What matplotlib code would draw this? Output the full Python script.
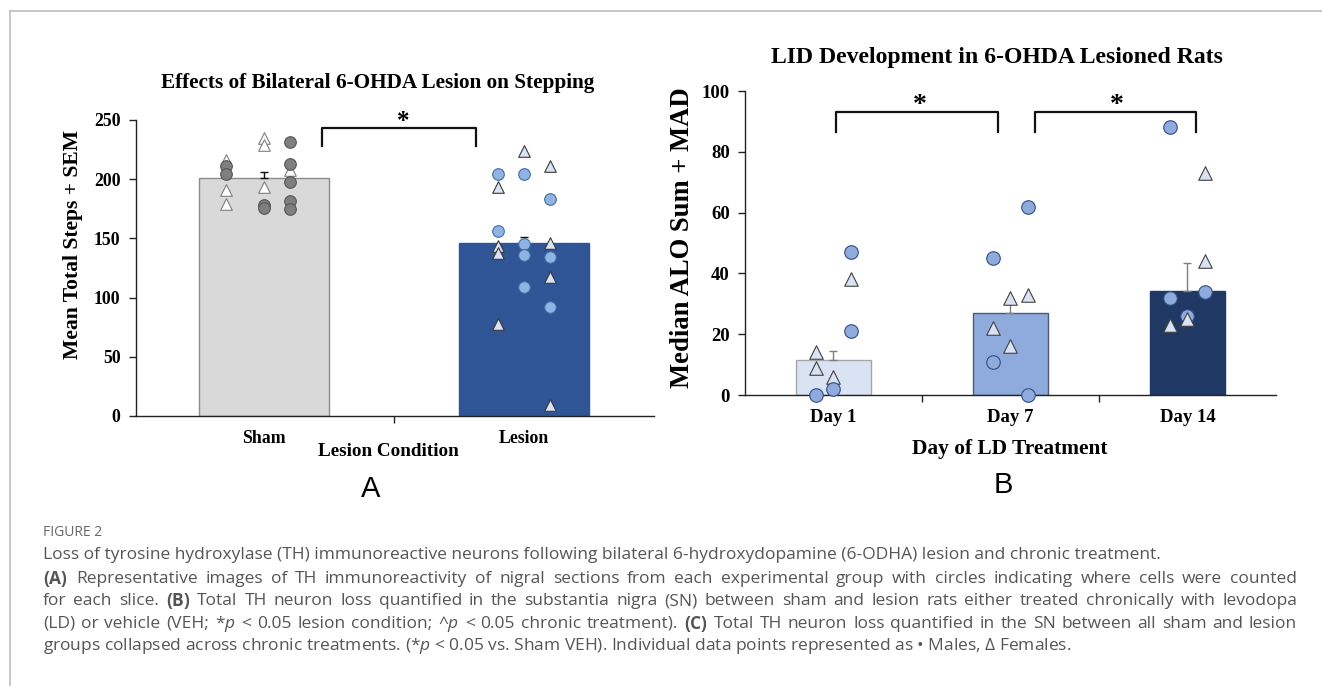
import numpy as np
import matplotlib
matplotlib.use("Agg")
import matplotlib.pyplot as plt
from matplotlib.lines import Line2D

# Panel A - stepping
a_groups = ["Sham", "Lesion"]
a_means = [201, 146]
a_sem = [5, 5]
# individual animals, one list per jitter column: (value, is_male)
sham_cols = [
    [(216, False), (211, True), (204, True), (191, False), (179, False)],
    [(235, False), (229, False), (193, False), (178, True), (176, True)],
    [(208, False), (231, True), (213, True), (198, True), (182, True), (175, True)],
]
lesion_cols = [
    [(204, True), (193, False), (156, True), (144, False), (138, False), (78, False)],
    [(224, False), (204, True), (145, True), (136, True), (109, True)],
    [(211, False), (183, True), (146, False), (134, True), (117, False), (92, True), (9, False)],
]

# Panel B - LID development
b_days = ["Day 1", "Day 7", "Day 14"]
b_medians = [11.5, 27, 34.3]
b_mad = [3, 4, 9]
day1_cols = [
    [(14, False), (9, False), (0, True)],
    [(6, False), (2, True)],
    [(47, True), (38, False), (21, True)],
]
day7_cols = [
    [(45, True), (22, False), (11, True)],
    [(32, False), (16, False)],
    [(62, True), (33, False), (0, True)],
]
day14_cols = [
    [(88, True), (32, True), (23, False)],
    [(26, True), (25, False)],
    [(73, False), (44, False), (34, True)],
]

# caption: (text, justified)
caption_lines = [
    ("Loss of tyrosine hydroxylase (TH) immunoreactive neurons following bilateral 6-hydroxydopamine (6-ODHA) lesion and chronic treatment.", False),
    (r"$\mathbf{(A)}$ Representative images of TH immunoreactivity of nigral sections from each experimental group with circles indicating where cells were counted", True),
    (r"for each slice. $\mathbf{(B)}$ Total TH neuron loss quantified in the substantia nigra (SN) between sham and lesion rats either treated chronically with levodopa", True),
    (r"(LD) or vehicle (VEH; *$p$ < 0.05 lesion condition; ^$p$ < 0.05 chronic treatment). $\mathbf{(C)}$ Total TH neuron loss quantified in the SN between all sham and lesion", True),
    (r"groups collapsed across chronic treatments. (*$p$ < 0.05 vs. Sham VEH). Individual data points represented as • Males, Δ Females.", False),
]

W, H = 1322, 686
SERIF = "Liberation Serif"
CAP = "Open Sans"

plt.rcParams["mathtext.fontset"] = "custom"
plt.rcParams["mathtext.rm"] = CAP
plt.rcParams["mathtext.bf"] = CAP + ":weight=bold"
plt.rcParams["mathtext.it"] = CAP + ":italic"


def px_axes(fig, x0, y0, x1, y1):
    # pixel box (top-left origin) -> figure axes
    return fig.add_axes([x0 / W, 1 - y1 / H, (x1 - x0) / W, (y1 - y0) / H])


def style_axes(ax, fs):
    for s in ["top", "right"]:
        ax.spines[s].set_visible(False)
    for s in ["left", "bottom"]:
        ax.spines[s].set_linewidth(1.0)
        ax.spines[s].set_color("#222222")
    ax.tick_params(axis="y", direction="out", length=5, width=1, color="#222222", pad=6)
    ax.tick_params(axis="x", which="major", length=0, pad=10)
    ax.tick_params(axis="x", which="minor", direction="out", length=5, width=1, color="#222222")
    for lab in ax.get_yticklabels() + ax.get_xticklabels():
        lab.set_fontfamily(SERIF)
        lab.set_fontweight("bold")
        lab.set_fontsize(fs)


def scatter_cols(ax, center, cols, offsets, circ, tri, s):
    for off, col in zip(offsets, cols):
        for val, male in col:
            if male:
                ax.scatter(center + off, val, s=s, marker="o", facecolor=circ[0],
                           edgecolor=circ[1], linewidth=0.8, zorder=4, clip_on=False)
            else:
                ax.scatter(center + off, val, s=s, marker="^", facecolor=tri[0],
                           edgecolor=tri[1], linewidth=0.8, zorder=4, clip_on=False)


def bracket(ax, x0, x1, ytop, ybot, star_x, star_y, fs):
    ax.plot([x0, x0, x1, x1], [ybot, ytop, ytop, ybot], color="#111111", lw=1.6,
            clip_on=False, zorder=5)
    ax.text(star_x, star_y, "*", ha="center", va="center", fontsize=fs,
            fontfamily=SERIF, fontweight="bold", clip_on=False)


def panel_a(fig):
    ax = px_axes(fig, 136, 120, 654, 416)
    x = np.arange(len(a_groups))
    ax.bar(x, a_means, width=0.5, color=["#d9d9d9", "#2f5597"],
           edgecolor=["#8c8c8c", "#2f5597"], linewidth=1.0, zorder=2)
    ax.errorbar(x, a_means, yerr=[[0, 0], a_sem], fmt="none", ecolor="#111111",
                elinewidth=1, capsize=3, capthick=1, zorder=3)
    scatter_cols(ax, 0, sham_cols, [-0.146, 0.0, 0.1],
                 ("#7f7f7f", "#555555"), ("#ffffff", "#7f7f7f"), 70)
    scatter_cols(ax, 1, lesion_cols, [-0.1, 0.0, 0.1],
                 ("#8fb4e3", "#3f6fa0"), ("#dae3f3", "#3a3a3a"), 70)
    ax.set_xlim(-0.492, 1.5)
    ax.set_ylim(0, 250)
    ax.set_yticks(np.arange(0, 251, 50))
    ax.set_xticks(x)
    ax.set_xticklabels(a_groups)
    ax.set_xticks([0.5], minor=True)
    style_axes(ax, 12.8)
    bracket(ax, 0.223, 0.815, 243, 228, 0.534, 249, 18)
    fig.text(73 / W, 1 - 244 / H, "Mean Total Steps + SEM", rotation=90,
             ha="center", va="center", fontfamily=SERIF, fontweight="bold", fontsize=15.6)
    fig.text(378 / W, 1 - 83 / H, "Effects of Bilateral 6-OHDA Lesion on Stepping",
             ha="center", va="center", fontfamily=SERIF, fontweight="bold", fontsize=15.3)
    fig.text(388 / W, 1 - 451 / H, "Lesion Condition", ha="center", va="center",
             fontfamily=SERIF, fontweight="bold", fontsize=13.8)
    fig.text(371 / W, 1 - 489 / H, "A", ha="center", va="center",
             fontfamily="Liberation Sans", fontsize=21)


def panel_b(fig):
    ax = px_axes(fig, 745, 91, 1276, 395)
    x = np.arange(len(b_days))
    ax.bar(x, b_medians, width=0.42, color=["#dae3f3", "#8faadc", "#203864"],
           edgecolor=["#a6a6a6", "#4a5a7a", "#203864"], linewidth=1.0, zorder=2)
    ax.errorbar(x, b_medians, yerr=[[0, 0, 0], b_mad], fmt="none", ecolor="#7f7f7f",
                elinewidth=1, capsize=3, capthick=1, zorder=3)
    circ = ("#8faadc", "#2f4f86")
    tri = ("#dae3f3", "#404040")
    offs = [-0.1, 0.0, 0.1]
    scatter_cols(ax, 0, day1_cols, offs, circ, tri, 95)
    scatter_cols(ax, 1, day7_cols, offs, circ, tri, 95)
    scatter_cols(ax, 2, day14_cols, offs, circ, tri, 95)
    ax.set_xlim(-0.5, 2.5)
    ax.set_ylim(0, 100)
    ax.set_yticks(np.arange(0, 101, 20))
    ax.set_xticks(x)
    ax.set_xticklabels(b_days)
    ax.set_xticks([0.5, 1.5], minor=True)
    style_axes(ax, 13.5)
    bracket(ax, 0.014, 0.93, 93, 86.5, 0.49, 95.2, 20)
    bracket(ax, 1.14, 2.05, 93, 86.5, 1.6, 95.2, 20)
    fig.text(682 / W, 1 - 238 / H, "Median ALO Sum + MAD", rotation=90,
             ha="center", va="center", fontfamily=SERIF, fontweight="bold", fontsize=19.2)
    fig.text(997 / W, 1 - 57 / H, "LID Development in 6-OHDA Lesioned Rats",
             ha="center", va="center", fontfamily=SERIF, fontweight="bold", fontsize=17.1)
    fig.text(1010 / W, 1 - 449 / H, "Day of LD Treatment", ha="center", va="center",
             fontfamily=SERIF, fontweight="bold", fontsize=15.4)
    fig.text(1003 / W, 1 - 485 / H, "B", ha="center", va="center",
             fontfamily="Liberation Sans", fontsize=21)


def caption(fig):
    fig.text(43 / W, 1 - 532 / H, "FIGURE 2", ha="left", va="center",
             fontfamily=CAP, fontsize=10, color="#666666")
    renderer = fig.canvas.get_renderer()
    left, right = 43, 1297
    ys = [555, 579, 601, 624, 646]
    kw = dict(va="center", fontfamily=[CAP, "DejaVu Sans"], fontsize=12.5, color="#555555")
    for y, (line, justify) in zip(ys, caption_lines):
        if not justify:
            fig.text(left / W, 1 - y / H, line, ha="left", **kw)
            continue
        # justified line: spread the words over the full text width
        words = line.split(" ")
        texts = [fig.text(0, 1 - y / H, w, ha="left", **kw) for w in words]
        widths = [t.get_window_extent(renderer).width for t in texts]
        gap = (right - left - sum(widths)) / (len(words) - 1)
        xpos = left
        for t, w in zip(texts, widths):
            t.set_x(xpos / W)
            xpos += w + gap


def main():
    fig = plt.figure(figsize=(W / 100, H / 100), dpi=100)
    # frame lines of the figure box
    fig.add_artist(Line2D([10 / W, 10 / W], [0, 1 - 11 / H], color="#bdbdbd", lw=1.2))
    fig.add_artist(Line2D([10 / W, 1], [1 - 11 / H, 1 - 11 / H], color="#bdbdbd", lw=1.2))
    panel_a(fig)
    panel_b(fig)
    caption(fig)
    fig.savefig("out.png", dpi=100)


if __name__ == "__main__":
    main()
